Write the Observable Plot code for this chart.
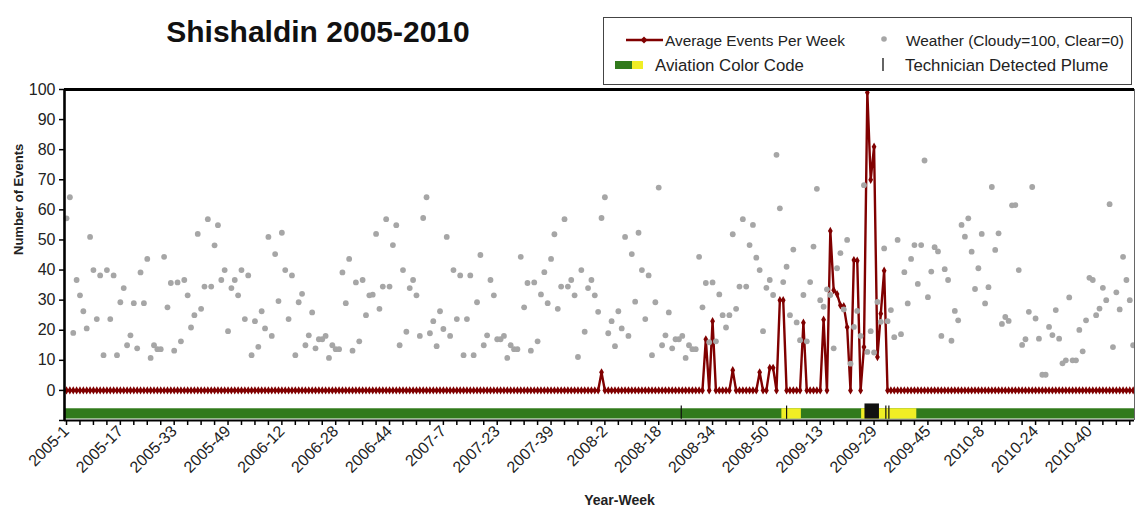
<!DOCTYPE html>
<html>
<head>
<meta charset="utf-8">
<script src="https://cdn.jsdelivr.net/npm/d3@7"></script>
<script src="https://cdn.jsdelivr.net/npm/@observablehq/plot@0.6"></script>
<style>
  html, body { margin: 0; padding: 0; background: #ffffff; }
  body { font-family: "Liberation Sans", Arial, sans-serif; }
  #wrap { position: relative; width: 1135px; height: 508px; overflow: hidden; }
  #title { position: absolute; left: 318px; top: 14px; transform: translateX(-50%);
           font-size: 30px; font-weight: bold; white-space: nowrap; color: #111; line-height: 36px; }
  #legend { position: absolute; left: 603px; top: 17px; }
  #chart { position: absolute; left: 0; top: 0; }
</style>
</head>
<body>
<div id="wrap">
  <div id="chart"></div>
  <div id="title">Shishaldin 2005-2010</div>
  <svg id="legend" width="531" height="69" font-family="Liberation Sans, Arial, sans-serif">
    <rect x="0.5" y="0.5" width="528" height="67" fill="#fff" stroke="#444" stroke-width="1"></rect>
    <line x1="23" x2="60" y1="23" y2="23" stroke="#800000" stroke-width="2.5"></line>
    <path d="M41,19.5L44.5,23L41,26.5L37.5,23Z" fill="#800000"></path>
    <text x="62" y="28.5" font-size="15.4" fill="#222">Average Events Per Week</text>
    <circle cx="281" cy="22" r="2.8" fill="#a6a6a6"></circle>
    <text x="303" y="28.5" font-size="15.4" fill="#222">Weather (Cloudy=100, Clear=0)</text>
    <rect x="12" y="44" width="17" height="8" fill="#317a1c"></rect>
    <rect x="29" y="44" width="11" height="8" fill="#f0ee25"></rect>
    <text x="52" y="54" font-size="16.8" fill="#222">Aviation Color Code</text>
    <line x1="280" x2="280" y1="41" y2="54" stroke="#111" stroke-width="1.3"></line>
    <text x="302" y="54" font-size="16.8" fill="#222">Technician Detected Plume</text>
  </svg>
</div>
<script>
// ---------- categories ----------
const years = [2005, 2006, 2007, 2008, 2009, 2010];
const weeksPerYear = 53;
const weekLabels = years.flatMap(y => d3.range(1, weeksPerYear + 1).map(w => `${y}-${w}`));

const tickLabels = ["2005-1","2005-17","2005-33","2005-49","2006-12","2006-28","2006-44",
  "2007-7","2007-23","2007-39","2008-2","2008-18","2008-34","2008-50","2009-13","2009-29",
  "2009-45","2010-8","2010-24","2010-40"];

// ---------- series: weather (Cloudy=100, Clear=0), one value per week ----------
const weather = [
  57.2,64.2,19.1,36.7,31.6,26.3,20.6,51,40,23.7,
  38.2,11.7,40,23.7,38.2,11.7,29.3,34,15,18.3,
  29,14,39.2,29,43.7,10.8,15,13.7,13.7,44.4,
  27.6,35.7,13.2,35.9,16.3,36.7,31.6,20.9,25,52,
  27.1,34.5,56.9,34.5,48.2,54.9,36.7,40,19.7,34,
  36.7,31.6,40,23.7,38.2,11.7,23,14.5,26.3,20.6,
  51,18.1,45.3,29.7,52.4,40,23.7,38.2,11.7,29.3,
  32.1,15,18.3,25.9,14,17,17,18.1,10.8,15,
  13.7,13.7,39.2,29,43.7,13.2,35.9,16.3,36.7,25,
  31.6,31.8,52,27.1,34.5,56.9,34.5,48.3,54.9,15,
  40,19.5,34,36.7,31.6,18.1,57.3,64.2,19,23,
  14.7,26.3,20.4,51,18.1,40,23.7,38.2,11.7,23.7,
  38.2,11.7,29.3,45,15,18.3,36.7,31.6,17,17,
  18.1,10.8,15,13.7,13.7,44.4,27.6,35.7,13.2,35.9,
  16.3,31.9,39.3,29,43.7,51.9,27.1,34.5,56.9,34.5,
  36.7,31.6,11.1,40,19.5,34,36.7,31.6,26.1,57.3,
  64.2,19,23,14.7,26.3,20.6,51,18.1,45.3,29.5,
  52.4,40,23.7,38.2,11.7,29.3,67.4,15,18.3,25.9,
  14,17,17,18.1,10.8,15,13.7,13.7,44.4,27.6,
  35.7,16,35.9,16.3,31.9,25,20.9,25,51.9,27.1,
  34.5,56.9,34.5,48.3,55,44.1,40,19.7,34.1,36.7,
  31.7,78.3,60.5,36,41.1,25,46.8,22.6,16.7,31.7,
  16.3,36,47.8,67,30,27.8,33.6,31.7,14,40.6,
  45.6,26.9,50,8.9,21.1,26.4,18.1,68.2,12.8,19.7,
  12.6,29.4,22.8,47.2,23,26.7,17.7,50,18.7,39.3,
  28.9,43.7,48.3,35.4,48.3,76.4,31,39.5,47.6,46.2,
  18.1,40.3,36.7,16.5,26.4,23.3,55,51.1,57.2,46.1,
  33.7,40.6,52,28.9,34.3,67.6,46.7,52.2,22.1,24.4,
  23.1,61.5,61.6,40,15.1,17,26.1,67.6,23.9,17.2,
  5.2,5.2,21.1,18.4,26.7,17.2,9,10,30.9,10,
  10,20.1,13,23.3,37.4,36.7,25,27.2,34.1,30,
  61.9,14.4,32.6,26.9,44.4,36.7,30,15
];

// ---------- series: average events per week ----------
const events = [
  0,0,0,0,0,0,0,0,0,0,0,0,0,0,0,0,0,0,0,0,
  0,0,0,0,0,0,0,0,0,0,0,0,0,0,0,0,0,0,0,0,
  0,0,0,0,0,0,0,0,0,0,0,0,0,0,0,0,0,0,0,0,
  0,0,0,0,0,0,0,0,0,0,0,0,0,0,0,0,0,0,0,0,
  0,0,0,0,0,0,0,0,0,0,0,0,0,0,0,0,0,0,0,0,
  0,0,0,0,0,0,0,0,0,0,0,0,0,0,0,0,0,0,0,0,
  0,0,0,0,0,0,0,0,0,0,0,0,0,0,0,0,0,0,0,0,
  0,0,0,0,0,0,0,0,0,0,0,0,0,0,0,0,0,0,0,6,
  0,0,0,0,0,0,0,0,0,0,0,0,0,0,0,0,0,0,0,0,
  0,0,0,0,0,0,0,0,0,0,17,0,23,0,0,0,0,0,6.7,0,
  0,0,0,0,0,0,6,0,0,7.5,7.5,0,30,30,0,0,0,0,0,22.5,
  0,0,0,0,0,23.5,0,53,33.3,32,28.3,28,21,0,43.3,43.1,0,14.4,99,70,
  81,11.1,25.5,39.8,0,0,0,0,0,0,0,0,0,0,0,0,0,0,0,0,
  0,0,0,0,0,0,0,0,0,0,0,0,0,0,0,0,0,0,0,0,
  0,0,0,0,0,0,0,0,0,0,0,0,0,0,0,0,0,0,0,0,
  0,0,0,0,0,0,0,0,0,0,0,0,0,0,0,0,0,0
];

// ---------- aviation color code (week index spans) ----------
const codeLevel = ["GREEN", "YELLOW", "YELLOW", "ORANGE"];
const codeStart = [-0.6, 212.6, 236.3, 237.3];
const codeEnd   = [317.4, 218.4, 252.7, 241.6];

// ---------- technician detected plume (week index) ----------
const plumeWeeks = [182.7, 214, 243.5, 244.4];

// ---------- build tables ----------
const rows = weekLabels.map((label, i) => ({i, label, weather: weather[i], events: events[i]}));
const codes = codeLevel.map((lv, k) => ({lv, x1: codeStart[k], x2: codeEnd[k]}));
const codeFill = {GREEN: "#317a1c", YELLOW: "#f0ee25", ORANGE: "#111111"};
const tickIdx = tickLabels.map(t => weekLabels.indexOf(t));

const X0 = -0.6, X1 = 317.4;
const font = "Liberation Sans, Arial, sans-serif";

const chart = Plot.plot({
  width: 1135,
  height: 508,
  marginLeft: 64,
  marginRight: 1,
  marginTop: 89,
  marginBottom: 88,
  style: {fontFamily: font, background: "transparent", color: "#222"},
  x: {domain: [X0, X1]},
  y: {domain: [-10, 100]},
  marks: [
    // aviation code band
    Plot.rectX(codes.filter(d => d.lv !== "ORANGE"), {x1: "x1", x2: "x2", y1: -6.1, y2: -9.5, fill: d => codeFill[d.lv]}),
    Plot.rectX(codes.filter(d => d.lv === "ORANGE"), {x1: "x1", x2: "x2", y1: -4.5, y2: -9.5, fill: d => codeFill[d.lv]}),
    Plot.ruleX(plumeWeeks, {y1: -5.2, y2: -9.6, stroke: "#111", strokeWidth: 1.2}),
    // events line
    Plot.line(rows, {x: "i", y: "events", stroke: "#800000", strokeWidth: 2.4}),
    Plot.dot(rows, {x: "i", y: "events", symbol: "diamond", r: 2.5, fill: "#800000", stroke: "none"}),
    // weather dots
    Plot.dot(rows, {x: "i", y: "weather", r: 2.9, fill: "#a6a6a6", stroke: "none"}),
    // frame
    Plot.ruleY([100], {x1: X0, x2: X1, stroke: "#000", strokeWidth: 3}),
    Plot.ruleY([-10], {x1: X0, x2: X1, stroke: "#000", strokeWidth: 2}),
    Plot.ruleX([X1], {y1: -10, y2: 100, stroke: "#666", strokeWidth: 1}),
    Plot.ruleX([X0], {y1: -10, y2: 100, stroke: "#000", strokeWidth: 2.6}),
    // axes
    Plot.axisY({ticks: d3.range(-10, 101, 10), tickFormat: d => d < 0 ? "" : d, tickSize: 5,
      tickPadding: 4, fontSize: 16, label: null, stroke: "#000", strokeWidth: 1.5}),
    Plot.axisX({ticks: d3.range(0, 318, 4), tickFormat: () => "", tickSize: 5, label: null,
      stroke: "#000", strokeWidth: 1.5}),
    Plot.axisX({ticks: tickIdx, tickFormat: i => weekLabels[i], tickSize: 0, tickPadding: 8,
      tickRotate: -45, fontSize: 16, label: null}),
    Plot.text(["Number of Events"], {frameAnchor: "left", dx: -46, rotate: -90,
      fontWeight: "bold", fontSize: 13, fill: "#222"}),
    Plot.text(["Year-Week"], {frameAnchor: "bottom", dx: 20, dy: 84,
      fontWeight: "bold", fontSize: 14, fill: "#222"})
  ]
});
document.getElementById("chart").appendChild(chart);
</script>
</body>
</html>
